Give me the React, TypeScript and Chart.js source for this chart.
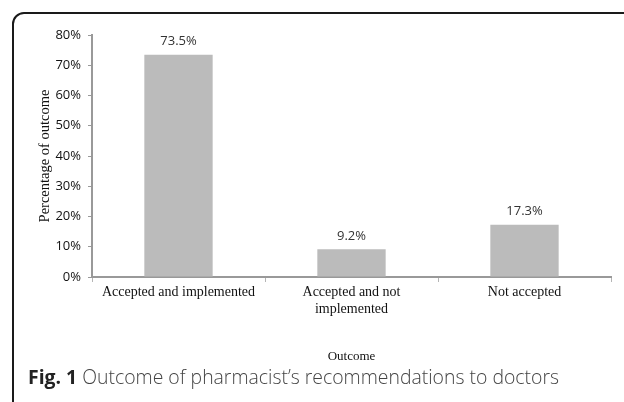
import React, { useEffect, useRef } from "react";
import { Chart, registerables } from "chart.js";

Chart.register(...registerables);

const categories: string[][] = [
  ["Accepted and implemented"],
  ["Accepted and not", "implemented"],
  ["Not accepted"],
];
const values: number[] = [73.5, 9.2, 17.3];
const valueLabels: string[] = ["73.5%", "9.2%", "17.3%"];
const yAxisTitle = "Percentage of outcome";
const xAxisTitle = "Outcome";
const captionBold = "Fig. 1";
const captionText = " Outcome of pharmacist\u2019s recommendations to doctors";

const dataLabelPlugin = {
  id: "dataLabels",
  afterDatasetsDraw(chart: any) {
    const ctx = chart.ctx;
    const meta = chart.getDatasetMeta(0);
    ctx.save();
    ctx.font = "13px 'Open Sans'";
    ctx.fillStyle = "#333";
    ctx.textAlign = "center";
    ctx.textBaseline = "middle";
    meta.data.forEach((bar: any, i: number) => {
      ctx.fillText(valueLabels[i], bar.x, bar.y - 13);
    });
    ctx.restore();
  },
};

export default function App() {
  const ref = useRef<HTMLCanvasElement>(null);
  useEffect(() => {
    if (!ref.current) return;
    const chart = new Chart(ref.current, {
      type: "bar",
      data: {
        labels: categories as any,
        datasets: [
          {
            data: values,
            backgroundColor: "#bbbbbb",
            borderWidth: 0,
            barPercentage: 0.79,
            categoryPercentage: 0.5,
          },
        ],
      },
      options: {
        animation: false,
        responsive: false,
        devicePixelRatio: 1,
        layout: { padding: { left: 20, top: 35, right: 13, bottom: 38 } },
        plugins: { legend: { display: false }, tooltip: { enabled: false } },
        scales: {
          x: {
            afterFit: (s: any) => {
              s.height = 87;
            },
            grid: {
              drawOnChartArea: false,
              color: "#b5b5b5",
              tickLength: 5,
              offset: true,
            },
            border: { color: "#999999", width: 2 },
            ticks: {
              color: "#111",
              font: { family: "'Liberation Serif'", size: 14 },
              maxRotation: 0,
              padding: 2,
            },
            title: {
              display: true,
              text: xAxisTitle,
              color: "#111",
              font: { family: "'Liberation Serif'", size: 13 },
              padding: { top: 0, bottom: 0 },
            },
          },
          y: {
            min: 0,
            max: 80,
            afterFit: (s: any) => {
              s.width = 72;
            },
            grid: {
              drawOnChartArea: false,
              color: "#999999",
              tickLength: 4,
            },
            border: { color: "#999999", width: 2 },
            ticks: {
              stepSize: 10,
              color: "#111",
              font: { family: "'Open Sans'", size: 13 },
              padding: 7,
              callback: (v: any) => v + "%",
            },
            title: {
              display: true,
              text: yAxisTitle,
              color: "#111",
              font: { family: "'Liberation Serif'", size: 14.5 },
              padding: { top: 16, bottom: 0 },
            },
          },
        },
      },
      plugins: [dataLabelPlugin],
    });
    return () => chart.destroy();
  }, []);

  return (
    <div
      style={{
        position: "fixed",
        left: 0,
        top: 0,
        width: 624,
        height: 402,
        overflow: "hidden",
        background: "#fff",
      }}
    >
      <div
        style={{
          position: "absolute",
          left: 12,
          top: 12,
          width: 640,
          height: 420,
          border: "2px solid #1a1a1a",
          borderTopLeftRadius: 12,
          boxSizing: "border-box",
        }}
      />
      <canvas
        ref={ref}
        width={624}
        height={402}
        style={{ position: "absolute", left: 0, top: 0, width: 624, height: 402 }}
      />
      <div
        style={{
          position: "absolute",
          left: 28,
          top: 365,
          fontFamily: "'Open Sans'",
          fontSize: 19.4,
          color: "#444",
          whiteSpace: "nowrap",
          lineHeight: "24px",
        }}
      >
        <span style={{ fontWeight: 700, color: "#222" }}>{captionBold}</span>
        <span style={{ fontWeight: 300 }}>{captionText}</span>
      </div>
    </div>
  );
}
